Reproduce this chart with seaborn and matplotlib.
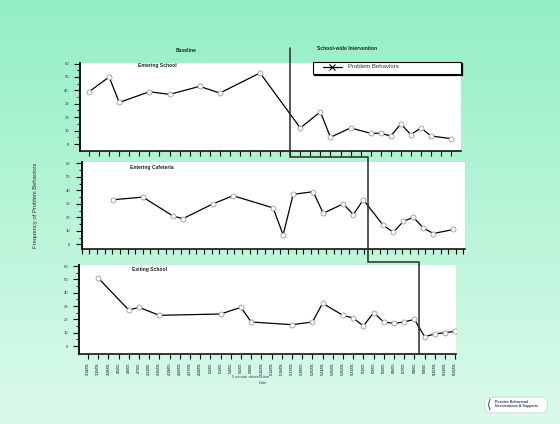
import numpy as np
import matplotlib
matplotlib.use("Agg")
import matplotlib.pyplot as plt
import seaborn as sns
from matplotlib.lines import Line2D
from matplotlib.patches import Rectangle, FancyBboxPatch
from matplotlib.ticker import FixedLocator

sns.set_style("white")
plt.rcParams['font.family'] = ['Liberation Sans', 'DejaVu Sans']

# ---------------- data ----------------
dates = ["3/14/05", "3/16/05", "3/28/05", "4/5/05", "4/6/05", "4/7/05", "4/11/05",
         "4/15/05", "4/19/05", "4/26/05", "4/27/05", "4/28/05", "5/2/05", "5/3/05",
         "5/4/05", "5/5/05", "5/9/05", "5/10/05", "5/12/05", "5/16/05", "5/17/05",
         "5/19/05", "5/20/05", "5/24/05", "5/25/05", "5/26/05", "5/31/05", "6/1/05",
         "6/2/05", "6/3/05", "6/6/05", "6/7/05", "6/8/05", "6/9/05", "6/10/05",
         "6/13/05", "6/15/05"]

school_idx = [0, 2, 3, 6, 8, 11, 13, 17, 21, 23, 24, 26, 28, 29, 30, 31, 32, 33, 34, 36]
school_val = [39, 50, 31, 39, 37, 43, 38, 53, 12, 24, 5, 12, 8, 8, 6, 15, 7, 12, 6, 4]

cafe_idx = [2, 5, 8, 9, 12, 14, 18, 19, 20, 22, 23, 25, 26, 27, 29, 30, 31, 32, 33, 34, 36]
cafe_val = [33, 35, 21, 19, 30, 36, 27, 7, 37, 39, 23, 30, 22, 33, 14, 9, 17, 20, 12, 8, 11]

exit_idx = [1, 4, 5, 7, 13, 15, 16, 20, 22, 23, 25, 26, 27, 28, 29, 30, 31, 32, 33, 34, 35, 36]
exit_val = [51, 27, 29, 23, 24, 29, 18, 16, 18, 32, 23, 21, 15, 25, 18, 17, 18, 20, 7, 9, 10, 11]

panel_titles = ["Entering School", "Entering Cafeteria", "Exiting School"]
phase_changes = [20.0, 27.5, 32.5]
phase_titles = ["Baseline", "School-wide Intervention"]
series_name = "Problem Behaviors"
y_label = "Frequency of Problem Behaviors"
x_label = ["5 minute observation", "Date"]

# ---------------- figure ----------------
W, H = 560, 424
fig = plt.figure(figsize=(W / 100, H / 100), dpi=100)

def fx(px):
    return px / W

def fy(py):
    return 1 - py / H

# gradient background
bg = fig.add_axes([0, 0, 1, 1])
bg.set_zorder(-5)
top_c = np.array([0x93, 0xef, 0xc5]) / 255
bot_c = np.array([0xdc, 0xfa, 0xec]) / 255
t = np.linspace(0, 1, 256)[:, None, None]
grad = top_c * (1 - t) + bot_c * t
grad = np.repeat(grad, 4, axis=1)
bg.imshow(grad, aspect="auto", extent=[0, 1, 0, 1], origin="upper")
bg.set_axis_off()

# panel geometry (pixels)
panels = [
    dict(l=80, r=461, t=63, b=151, xlim=(-0.9, 36.98), ylim=(-5.2, 60.4),
         idx=school_idx, val=school_val, title_xy=(157, 65)),
    dict(l=81.7, r=465, t=162, b=249.3, xlim=(-1.1, 37.15), ylim=(-3.7, 61.0),
         idx=cafe_idx, val=cafe_val, title_xy=(151.7, 167)),
    dict(l=79.3, r=456, t=265, b=354, xlim=(-0.85, 36.08), ylim=(-6.0, 60.75),
         idx=exit_idx, val=exit_val, title_xy=(150, 270)),
]

axes = []
for i, p in enumerate(panels):
    ax = fig.add_axes([fx(p["l"]), fy(p["b"]), fx(p["r"] - p["l"]), (p["b"] - p["t"]) / H])
    ax.set_facecolor("white")
    sns.lineplot(x=p["idx"], y=p["val"], ax=ax, color="black", lw=0.9,
                 marker="o", markersize=3.6, markerfacecolor="white",
                 markeredgecolor="#9a9a9a", markeredgewidth=0.6)
    ax.set_xlim(*p["xlim"])
    ax.set_ylim(*p["ylim"])
    for s in ["top", "right"]:
        ax.spines[s].set_visible(False)
    ax.spines["left"].set_color("black")
    ax.spines["left"].set_linewidth(1.3)
    ax.spines["bottom"].set_color("black")
    ax.spines["bottom"].set_linewidth(1.1)
    ax.yaxis.set_major_locator(FixedLocator([0, 10, 20, 30, 40, 50, 60]))
    ax.yaxis.set_minor_locator(FixedLocator([5, 15, 25, 35, 45, 55]))
    ax.tick_params(axis="y", which="major", direction="out", length=4, width=0.8,
                   labelsize=3.0, pad=4, colors="black", labelcolor="#333333", left=True)
    ax.tick_params(axis="y", which="minor", direction="out", length=2.5, width=0.8, left=True)
    if i == 1:
        ax.xaxis.set_major_locator(FixedLocator(np.arange(p["xlim"][0], p["xlim"][1] + 0.01, 0.762)))
    else:
        ax.xaxis.set_major_locator(FixedLocator(list(range(len(dates)))))
    if i == 2:
        ax.set_xticklabels(dates, rotation=90, fontsize=2.7, color="#444444")
    else:
        ax.set_xticklabels([])
    ax.tick_params(axis="x", direction="out", length=3.5, width=0.8, bottom=True,
                   pad=2.5, colors="black")
    ax.set_xlabel("")
    ax.set_ylabel("")
    fig.text(fx(p["title_xy"][0]), fy(p["title_xy"][1]), panel_titles[i],
             fontsize=3.6, fontweight="bold", color="#222222", ha="center", va="center")
    axes.append(ax)

# phase titles
fig.text(fx(185.7), fy(50), phase_titles[0], fontsize=3.6, fontweight="bold",
         color="#222222", ha="center", va="center")
fig.text(fx(346.7), fy(49), phase_titles[1], fontsize=3.6, fontweight="bold",
         color="#222222", ha="center", va="center")

# phase change line (stepped across panels)
inv = fig.transFigure.inverted()
def data_x_to_fig(ax, xv):
    return inv.transform(ax.transData.transform((xv, 0)))[0]

x0 = data_x_to_fig(axes[0], phase_changes[0])
x1 = data_x_to_fig(axes[1], phase_changes[1])
x2 = data_x_to_fig(axes[2], phase_changes[2])
xs = [x0, x0, x1, x1, x2, x2]
ys = [fy(48), fy(157), fy(157), fy(262), fy(262), fy(354)]
fig.add_artist(Line2D(xs, ys, transform=fig.transFigure, color="#2a2a2a", lw=1.1,
                      solid_joinstyle="miter", zorder=5))

# legend box
lx0, lx1, ly0, ly1 = 313.3, 460.7, 62.3, 73.7
fig.add_artist(Rectangle((fx(lx0), fy(ly1)), fx(lx1 - lx0), (ly1 - ly0) / H,
                         transform=fig.transFigure, facecolor="white",
                         edgecolor="black", lw=0.8, zorder=6))
fig.add_artist(Line2D([fx(lx0 + 1), fx(lx1 + 1)], [fy(ly1 + 0.8)] * 2,
                      transform=fig.transFigure, color="black", lw=0.9, zorder=6))
fig.add_artist(Line2D([fx(lx1 + 0.8)] * 2, [fy(ly0 + 1), fy(ly1 + 0.8)],
                      transform=fig.transFigure, color="black", lw=0.9, zorder=6))
fig.add_artist(Line2D([fx(323), fx(341.7)], [fy(66.8)] * 2, transform=fig.transFigure,
                      color="black", lw=0.9, zorder=7))
fig.add_artist(Line2D([fx(331.7)], [fy(66.8)], transform=fig.transFigure, color="black",
                      marker="x", markersize=4, markeredgewidth=0.8, zorder=7))
fig.text(fx(348.3), fy(66.8), series_name, fontsize=4.3, color="#333333",
         ha="left", va="center", zorder=7)

# axis labels
fig.text(fx(35), fy(205), y_label, rotation=90, fontsize=4.2, color="#333333",
         ha="center", va="center")
fig.text(fx(250), fy(377.5), x_label[0], fontsize=2.9, color="#444444",
         ha="center", va="center")
fig.text(fx(263), fy(383.5), x_label[1], fontsize=2.9, color="#444444",
         ha="center", va="center")

# logo
fig.add_artist(FancyBboxPatch((fx(486), fy(412)), fx(60), 14 / H,
                              boxstyle="round,pad=0.002,rounding_size=0.012",
                              transform=fig.transFigure, facecolor="white",
                              edgecolor="#c8d0dc", lw=0.5, zorder=3))
fig.text(fx(495), fy(402), "Positive Behavioral", fontsize=2.6, fontweight="bold",
         color="#2b3f7a", ha="left", va="center", zorder=4)
fig.text(fx(495), fy(406.5), "Interventions & Supports", fontsize=2.6, fontweight="bold",
         color="#2b3f7a", ha="left", va="center", zorder=4)
fig.add_artist(Line2D([fx(490), fx(488.5), fx(490)], [fy(399), fy(405), fy(410)],
                      transform=fig.transFigure, color="#3a5aa0", lw=0.8, zorder=4))

fig.savefig("out.png", dpi=100)
